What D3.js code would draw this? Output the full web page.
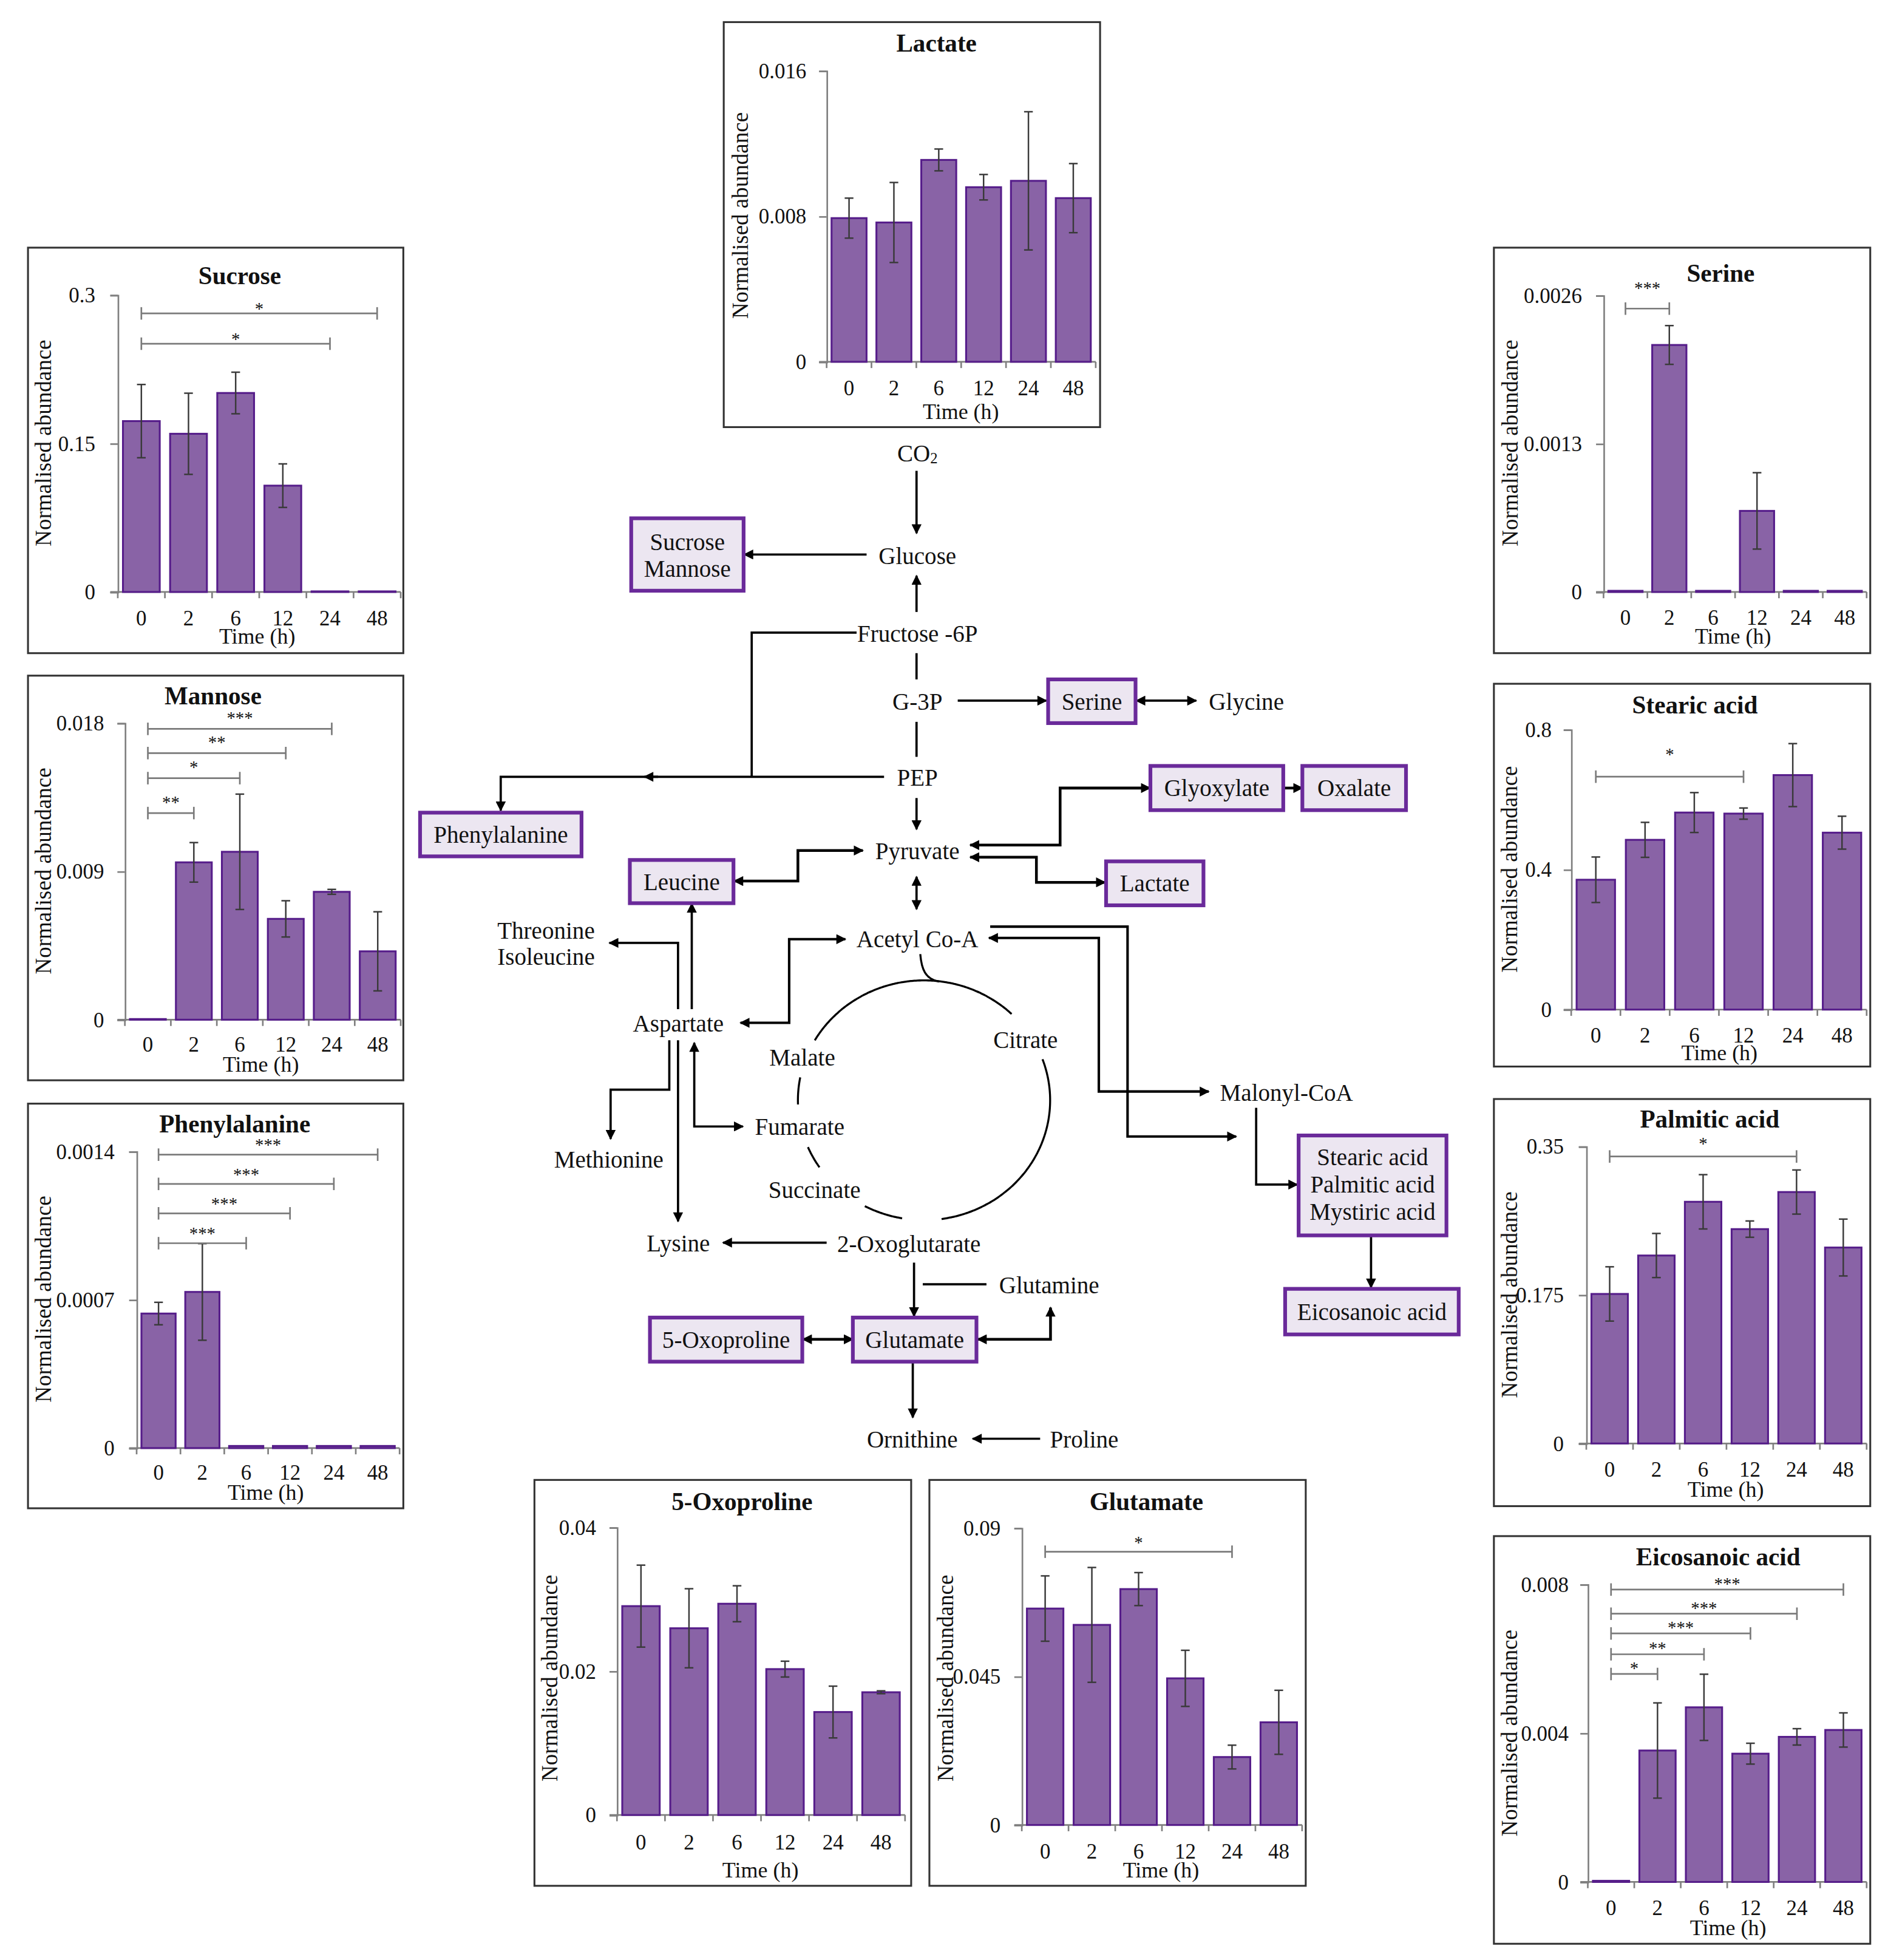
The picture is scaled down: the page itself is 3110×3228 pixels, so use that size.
<!DOCTYPE html>
<html><head><meta charset="utf-8">
<script src="https://cdn.jsdelivr.net/npm/d3@7"></script>
<style>
body{margin:0;background:#fff}
svg{display:block}
text{font-family:"Liberation Serif","Times New Roman",serif;fill:#111}
</style>
</head><body><svg id="c"></svg>
<script>
// ---------------- DATA ----------------
const times = ["0","2","6","12","24","48"];

const lactateMean = [0.0079, 0.00766, 0.0111, 0.0096, 0.00995, 0.0090];
const lactateErr  = [0.0011, 0.0022, 0.0006, 0.0007, 0.0038, 0.0019];
const lactateTicks = [0, 0.008, 0.016];
const lactateSig = [];

const sucroseMean = [0.1726, 0.1598, 0.201, 0.1074, 0.0006, 0.0006];
const sucroseErr  = [0.037, 0.041, 0.021, 0.022, 0, 0];
const sucroseTicks = [0, 0.15, 0.3];
const sucroseSig = [
  {from:"0", to:"48", at:0.2814, mark:"*"},
  {from:"0", to:"24", at:0.2508, mark:"*"}
];

const mannoseMean = [0.00004, 0.00955, 0.01019, 0.00612, 0.00776, 0.00415];
const mannoseErr  = [0, 0.0012, 0.0035, 0.0011, 0.00015, 0.0024];
const mannoseTicks = [0, 0.009, 0.018];
const mannoseSig = [
  {from:"0", to:"24", at:0.01765, mark:"***"},
  {from:"0", to:"12", at:0.01618, mark:"**"},
  {from:"0", to:"6",  at:0.01466, mark:"*"},
  {from:"0", to:"2",  at:0.01254, mark:"**"}
];

const phenylMean = [0.000635, 0.000737, 0.00001, 0.00001, 0.00001, 0.00001];
const phenylErr  = [0.000053, 0.000228, 0, 0, 0, 0];
const phenylTicks = [0, 0.0007, 0.0014];
const phenylSig = [
  {from:"0", to:"48", at:0.001385, mark:"***"},
  {from:"0", to:"24", at:0.001247, mark:"***"},
  {from:"0", to:"12", at:0.001108, mark:"***"},
  {from:"0", to:"6",  at:0.000967, mark:"***"}
];

const serineMean = [0.00001, 0.002166, 0.00001, 0.000711, 0.00001, 0.00001];
const serineErr  = [0, 0.00017, 0, 0.000335, 0, 0];
const serineTicks = [0, 0.0013, 0.0026];
const serineSig = [{from:"0", to:"2", at:0.002485, mark:"***"}];

const stearicMean = [0.371, 0.485, 0.563, 0.560, 0.670, 0.5055];
const stearicErr  = [0.065, 0.05, 0.057, 0.016, 0.09, 0.047];
const stearicTicks = [0, 0.4, 0.8];
const stearicSig = [{from:"0", to:"12", at:0.6655, mark:"*"}];

const palmiticMean = [0.1762, 0.2215, 0.2848, 0.2526, 0.2963, 0.2309];
const palmiticErr  = [0.032, 0.026, 0.032, 0.0096, 0.026, 0.0335];
const palmiticTicks = [0, 0.175, 0.35];
const palmiticSig = [{from:"0", to:"24", at:0.3382, mark:"*"}];

const eicosMean = [0.00003, 0.003533, 0.004694, 0.003448, 0.0039, 0.004085];
const eicosErr  = [0, 0.00128, 0.00089, 0.00028, 0.00022, 0.00046];
const eicosTicks = [0, 0.004, 0.008];
const eicosSig = [
  {from:"0", to:"48", at:0.00786, mark:"***"},
  {from:"0", to:"24", at:0.00721, mark:"***"},
  {from:"0", to:"12", at:0.00668, mark:"***"},
  {from:"0", to:"6",  at:0.00612, mark:"**"},
  {from:"0", to:"2",  at:0.00559, mark:"*"}
];

const oxoMean = [0.02905, 0.02597, 0.02938, 0.02029, 0.01432, 0.01707];
const oxoErr  = [0.0057, 0.0055, 0.0025, 0.0011, 0.0036, 0.0002];
const oxoTicks = [0, 0.02, 0.04];
const oxoSig = [];

const glutMean = [0.06559, 0.06064, 0.07149, 0.04444, 0.02059, 0.03112];
const glutErr  = [0.0099, 0.0174, 0.005, 0.0085, 0.0036, 0.0097];
const glutTicks = [0, 0.045, 0.09];
const glutSig = [{from:"0", to:"24", at:0.08282, mark:"*"}];

// ---------------- LAYOUT ----------------
const W = 1512, H = 1569.4;
const svg = d3.select("#c").attr("width", 3110).attr("height", 3228)
  .attr("viewBox", `0 0 ${W} ${H}`);
svg.append("rect").attr("width", W).attr("height", H).attr("fill", "#fff");

const defs = svg.append("defs");
defs.append("marker").attr("id", "ah").attr("viewBox", "0 0 10 10")
  .attr("refX", 9).attr("refY", 5).attr("markerWidth", 9).attr("markerHeight", 8)
  .attr("markerUnits", "userSpaceOnUse").attr("orient", "auto-start-reverse")
  .append("path").attr("d", "M0,0L10,5L0,10z").attr("fill", "#000");

const panels = [
  {title:"Lactate", mean:lactateMean, err:lactateErr, ticks:lactateTicks, sig:lactateSig,
   box:[579.6,17.7,301.4,324.3], ax:662, yT:56.7, yB:289.7, xE:877.5, tx:750, ty:34.6,
   tickR:645.8, xtY:310.7, timeX:769.5, timeY:329.7, ylX:592.8, ylY:172.6, gap:8},
  {title:"Sucrose", mean:sucroseMean, err:sucroseErr, ticks:sucroseTicks, sig:sucroseSig,
   box:[22.4,198.3,300.6,324.7], ax:94.3, yT:236.2, yB:474, xE:320.9, tx:192, ty:220.7,
   tickR:76.3, xtY:495, timeX:206, timeY:509.6, ylX:34.8, ylY:354.7, gap:6},
  {title:"Mannose", mean:mannoseMean, err:mannoseErr, ticks:mannoseTicks, sig:mannoseSig,
   box:[22.4,541,300.6,324], ax:100, yT:579, yB:816.5, xE:320.9, tx:170.6, ty:557.2,
   tickR:83.3, xtY:836.6, timeX:208.9, timeY:852.3, ylX:34.8, ylY:697.4, gap:11},
  {title:"Phenylalanine", mean:phenylMean, err:phenylErr, ticks:phenylTicks, sig:phenylSig,
   box:[22.4,883.7,300.6,324], ax:109.4, yT:922, yB:1159.5, xE:320, tx:188, ty:900,
   tickR:91.7, xtY:1179.3, timeX:212.8, timeY:1195, ylX:34.8, ylY:1040.2, gap:10},
  {title:"Serine", mean:serineMean, err:serineErr, ticks:serineTicks, sig:serineSig,
   box:[1196.4,198.3,301.4,324.7], ax:1284.2, yT:236.6, yB:474, xE:1494.9, tx:1378, ty:218.7,
   tickR:1267, xtY:494.9, timeX:1387.9, timeY:509.6, ylX:1209.2, ylY:354.7, gap:19},
  {title:"Stearic acid", mean:stearicMean, err:stearicErr, ticks:stearicTicks, sig:stearicSig,
   box:[1196.4,547.5,301.4,306.5], ax:1258.3, yT:584.2, yB:808.4, xE:1494.9, tx:1357.4, ty:564.3,
   tickR:1242.6, xtY:829.2, timeX:1377, timeY:843, ylX:1209, ylY:696, gap:20},
  {title:"Palmitic acid", mean:palmiticMean, err:palmiticErr, ticks:palmiticTicks, sig:palmiticSig,
   box:[1196.4,880,301.4,326], ax:1270.4, yT:918, yB:1155.8, xE:1494.9, tx:1369.2, ty:896,
   tickR:1252.4, xtY:1176.9, timeX:1382, timeY:1192.7, ylX:1209, ylY:1036.7, gap:12.6},
  {title:"Eicosanoic acid", mean:eicosMean, err:eicosErr, ticks:eicosTicks, sig:eicosSig,
   box:[1196.4,1230,301.4,326.4], ax:1271.6, yT:1268.6, yB:1506.9, xE:1494.9, tx:1376, ty:1246.5,
   tickR:1256.3, xtY:1528, timeX:1384, timeY:1543.8, ylX:1209, ylY:1387.7, gap:7},
  {title:"5-Oxoproline", mean:oxoMean, err:oxoErr, ticks:oxoTicks, sig:oxoSig,
   box:[428,1185,301.7,325], ax:494.1, yT:1223, yB:1453.3, xE:724.8, tx:594.3, ty:1202.4,
   tickR:477.4, xtY:1475.5, timeX:609, timeY:1497.6, ylX:440, ylY:1343.7, gap:8},
  {title:"Glutamate", mean:glutMean, err:glutErr, ticks:glutTicks, sig:glutSig,
   box:[744.3,1185,301.4,325], ax:818.3, yT:1223.5, yB:1461.3, xE:1042.8, tx:918.1, ty:1202.4,
   tickR:801.3, xtY:1482.7, timeX:929.8, timeY:1497.6, ylX:757, ylY:1343.7, gap:9.5}
];

const AXC = "#808080";
function drawPanel(p) {
  const g = svg.append("g");
  g.append("rect").attr("x", p.box[0]).attr("y", p.box[1]).attr("width", p.box[2]).attr("height", p.box[3])
    .attr("fill", "#fff").attr("stroke", "#333").attr("stroke-width", 1.5);

  const x = d3.scaleBand().domain(times).range([p.ax, p.xE]).paddingInner(0.22).paddingOuter(0.11);
  const y = d3.scaleLinear().domain([0, d3.max(p.ticks)]).range([p.yB, p.yT]);
  const cx = t => x(t) + x.bandwidth() / 2;
  const step = x.step();

  // y axis
  const ya = g.append("g").attr("transform", `translate(${p.ax},0)`)
    .call(d3.axisLeft(y).tickValues(p.ticks).tickFormat(d3.format("~g"))
      .tickSizeOuter(0).tickSize(6).tickPadding(p.ax - p.tickR - 6));
  ya.attr("font-size", 17).attr("font-family", "Liberation Serif");
  ya.select(".domain").attr("stroke", AXC).attr("stroke-width", 1.3);
  ya.selectAll(".tick line").attr("stroke", AXC).attr("stroke-width", 1.3);
  ya.selectAll(".tick text").attr("fill", "#111");

  // x axis
  g.append("line").attr("x1", p.ax - 6).attr("x2", p.xE).attr("y1", y(0)).attr("y2", y(0))
    .attr("stroke", AXC).attr("stroke-width", 1.3);
  g.selectAll(".xt").data(d3.range(times.length + 1)).join("line")
    .attr("x1", i => x.range()[0] + i * step).attr("x2", i => x.range()[0] + i * step)
    .attr("y1", y(0)).attr("y2", y(0) + 5).attr("stroke", AXC).attr("stroke-width", 1.3);
  g.selectAll(".xl").data(times).join("text")
    .attr("x", cx).attr("y", p.xtY).attr("text-anchor", "middle").attr("dominant-baseline", "central")
    .attr("font-size", 17).text(d => d);

  // bars
  const rows = times.map((t, i) => ({t, m: p.mean[i], e: p.err[i]}));
  g.selectAll(".bar").data(rows).join("rect")
    .attr("x", d => x(d.t)).attr("width", x.bandwidth())
    .attr("y", d => y(d.m)).attr("height", d => y(0) - y(d.m))
    .attr("fill", "#8963a6").attr("stroke", "#561d8a").attr("stroke-width", 1.5);

  // error bars
  const eb = rows.filter(d => d.e > 0);
  g.selectAll(".ev").data(eb).join("line")
    .attr("x1", d => cx(d.t)).attr("x2", d => cx(d.t))
    .attr("y1", d => y(d.m - d.e)).attr("y2", d => y(d.m + d.e))
    .attr("stroke", "#3a3a3a").attr("stroke-width", 1.2);
  ["lo", "hi"].forEach(k => {
    g.selectAll(".ec" + k).data(eb).join("line")
      .attr("x1", d => cx(d.t) - 3.5).attr("x2", d => cx(d.t) + 3.5)
      .attr("y1", d => y(k === "lo" ? d.m - d.e : d.m + d.e))
      .attr("y2", d => y(k === "lo" ? d.m - d.e : d.m + d.e))
      .attr("stroke", "#3a3a3a").attr("stroke-width", 1.2);
  });

  // significance brackets
  p.sig.forEach(s => {
    const x1 = cx(s.from), x2 = cx(s.to), yy = y(s.at);
    g.append("line").attr("x1", x1).attr("x2", x2).attr("y1", yy).attr("y2", yy)
      .attr("stroke", "#7a7a7a").attr("stroke-width", 1.3);
    [x1, x2].forEach(xx => g.append("line").attr("x1", xx).attr("x2", xx)
      .attr("y1", yy - 5).attr("y2", yy + 5).attr("stroke", "#7a7a7a").attr("stroke-width", 1.3));
    g.append("text").attr("x", (x1 + x2) / 2).attr("y", yy - p.gap + 7)
      .attr("text-anchor", "middle").attr("font-size", 14).attr("fill", "#333").text(s.mark);
  });

  // labels
  g.append("text").attr("x", p.tx).attr("y", p.ty).attr("text-anchor", "middle")
    .attr("dominant-baseline", "central").attr("font-size", 20).attr("font-weight", "bold").text(p.title);
  g.append("text").attr("x", p.timeX).attr("y", p.timeY).attr("text-anchor", "middle")
    .attr("dominant-baseline", "central").attr("font-size", 17.5).text("Time (h)");
  g.append("text").attr("transform", `translate(${p.ylX},${p.ylY}) rotate(-90)`)
    .attr("text-anchor", "middle").attr("dominant-baseline", "central").attr("font-size", 18)
    .text("Normalised abundance");
}

// ---------------- PATHWAY ----------------
const pw = svg.append("g");
const line = d3.line();
function conn(pts, start, end, w) {
  const p = pw.append("path").attr("d", line(pts)).attr("fill", "none")
    .attr("stroke", "#000").attr("stroke-width", w || 1.8);
  if (start) p.attr("marker-start", "url(#ah)");
  if (end) p.attr("marker-end", "url(#ah)");
}
const connectors = [
  {p:[[734,377],[734,427]], e:1},
  {p:[[694,444],[596,444]], e:1},
  {p:[[734,490],[734,461]], e:1},
  {p:[[686,506.5],[602,506.5],[602,622]]},
  {p:[[734,523],[734,544]]},
  {p:[[767,561],[838,561]], e:1},
  {p:[[910,561],[958,561]], s:1, e:1},
  {p:[[734,578],[734,606]]},
  {p:[[708,622],[401,622],[401,649]], e:1},
  {p:[[527,622],[516,622]], e:1},
  {p:[[734,639],[734,664]], e:1},
  {p:[[777,676.6],[849,676.6],[849,631],[921,631]], s:1, e:1, w:2.2},
  {p:[[1028,631],[1043,631]], e:1, w:2.2},
  {p:[[777,686.4],[830,686.4],[830,706.5],[885,706.5]], s:1, e:1, w:2.2},
  {p:[[588,705.5],[639,705.5],[639,681],[691,681]], s:1, e:1, w:2.2},
  {p:[[734,702],[734,728]], s:1, e:1},
  {p:[[543,808],[543,755],[488,755]], e:1},
  {p:[[554,808],[554,723.5]], e:1},
  {p:[[593,819],[632,819],[632,752],[677,752]], s:1, e:1, w:2},
  {p:[[793,742],[903,742],[903,910],[990,910]], e:1, w:2},
  {p:[[792,751],[880,751],[880,874],[968,874]], s:1, e:1, w:2},
  {p:[[536,833],[536,872.5],[489,872.5],[489,912]], e:1},
  {p:[[543,833],[543,978]], e:1},
  {p:[[556,835],[556,902],[595,902]], s:1, e:1},
  {p:[[662,995],[579,995]], e:1},
  {p:[[1006,887],[1006,948.5],[1039,948.5]], e:1},
  {p:[[1098,989],[1098,1031]], e:1},
  {p:[[732,1011],[732,1054]], e:1},
  {p:[[739,1028.3],[790,1028.3]]},
  {p:[[643,1072.4],[683,1072.4]], s:1, e:1, w:2.2},
  {p:[[783,1072.4],[841.3,1072.4],[841.3,1047]], s:1, e:1, w:2.2},
  {p:[[731,1090.3],[731,1135]], e:1},
  {p:[[833,1152],[779,1152]], e:1}
];
connectors.forEach(c => conn(c.p, c.s, c.e, c.w));

// TCA cycle arcs (ellipse)
const tca = {cx:740, cy:881, rx:101, ry:96};
const arcSegs = [[-150,-46],[-20,82],[100,118],[146,157],[178,191]];
arcSegs.forEach(([a0, a1]) => {
  const pts = d3.range(a0, a1 + 0.5, 1).map(a => {
    const r = a * Math.PI / 180;
    return [tca.cx + tca.rx * Math.cos(r), tca.cy + tca.ry * Math.sin(r)];
  });
  pw.append("path").attr("d", d3.line().curve(d3.curveBasis)(pts)).attr("fill", "none")
    .attr("stroke", "#000").attr("stroke-width", 1.6);
});
pw.append("path").attr("d", "M737,764 C738,776 741,784 752,786").attr("fill", "none")
  .attr("stroke", "#000").attr("stroke-width", 1.6);

// boxes
const boxes = [
  {x:505.5, y:415, w:90, h:58, lines:["Sucrose","Mannose"], cy:[434,455.5]},
  {x:839.4, y:544, w:70, h:35, lines:["Serine"], cy:[561.6]},
  {x:336.4, y:650.7, w:129.3, h:35, lines:["Phenylalanine"], cy:[668.2]},
  {x:921.3, y:613.3, w:106.4, h:35.4, lines:["Glyoxylate"], cy:[631]},
  {x:1043, y:613.3, w:83, h:35.4, lines:["Oxalate"], cy:[631]},
  {x:885.8, y:689.7, w:78, h:35.2, lines:["Lactate"], cy:[707.3]},
  {x:504.4, y:688.6, w:83, h:34.6, lines:["Leucine"], cy:[706]},
  {x:1040, y:909.2, w:118.4, h:80, lines:["Stearic acid","Palmitic acid","Mystiric acid"], cy:[926.6,948.5,970]},
  {x:1029.2, y:1032, w:139, h:36.5, lines:["Eicosanoic acid"], cy:[1050.6]},
  {x:683, y:1055, w:99, h:35.3, lines:["Glutamate"], cy:[1073]},
  {x:520.5, y:1055, w:122, h:35.3, lines:["5-Oxoproline"], cy:[1073]}
];
boxes.forEach(b => {
  pw.append("rect").attr("x", b.x).attr("y", b.y).attr("width", b.w).attr("height", b.h)
    .attr("fill", "#ece6f1").attr("stroke", "#6a2a9a").attr("stroke-width", 3);
  b.lines.forEach((t, i) => pw.append("text").attr("x", b.x + b.w / 2).attr("y", b.cy[i])
    .attr("text-anchor", "middle").attr("dominant-baseline", "central").attr("font-size", 19).text(t));
});

// plain labels
const labels = [
  ["Glucose",734.7,445],["Fructose -6P",734.7,507.2],["G-3P",734.7,561.6],["Glycine",998.2,561.6],
  ["PEP",734.7,622.7],["Pyruvate",734.7,681.4],["Acetyl Co-A",734.7,752],["Threonine",437.3,745],
  ["Isoleucine",437.3,766],["Aspartate",543.2,819.5],["Malate",642.5,846.7],["Citrate",821.3,832.4],
  ["Fumarate",640.4,902.3],["Methionine",487.5,928.3],["Succinate",652.3,952.6],["Malonyl-CoA",1030.3,875],
  ["Lysine",543.2,995.5],["2-Oxoglutarate",727.9,996],["Glutamine",840.2,1028.8],
  ["Ornithine",730.6,1152.3],["Proline",868.3,1152.3]
];
labels.forEach(([t, x, y]) => pw.append("text").attr("x", x).attr("y", y).attr("text-anchor", "middle")
  .attr("dominant-baseline", "central").attr("font-size", 19).text(t));
const co2 = pw.append("text").attr("x", 734.7).attr("y", 362.6).attr("text-anchor", "middle")
  .attr("dominant-baseline", "central").attr("font-size", 19);
co2.append("tspan").text("CO");
co2.append("tspan").attr("font-size", 12).attr("dy", 4).text("2");

panels.forEach(drawPanel);
</script>
</body></html>
